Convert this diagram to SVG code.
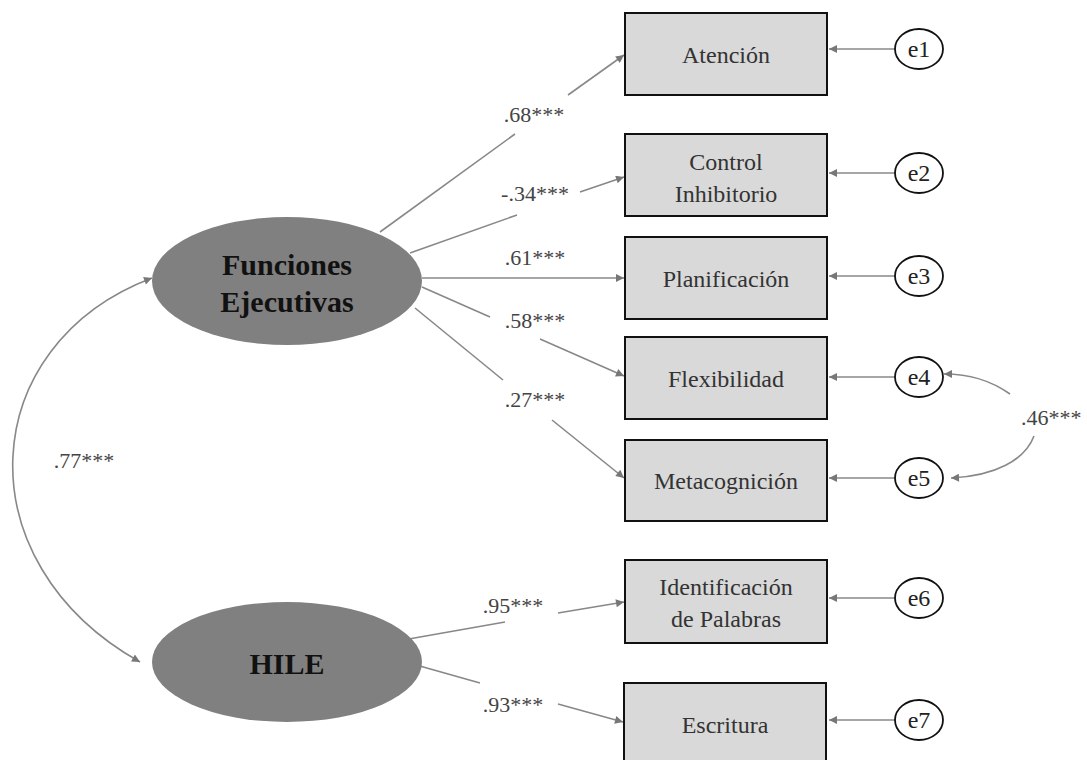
<svg xmlns="http://www.w3.org/2000/svg" width="1087" height="760" viewBox="0 0 1087 760">
<style>
  .box{fill:#d9d9d9;stroke:#111;stroke-width:2}
  .lat{fill:#808080;stroke:none}
  .err{fill:#fff;stroke:#111;stroke-width:1.8}
  text{font-family:"Liberation Serif","Times New Roman",Times,"DejaVu Serif",serif}
  .btxt{font-size:24px;fill:#333;text-anchor:middle}
  .ltxt{font-size:30px;font-weight:bold;fill:#111;text-anchor:middle}
  .etxt{font-size:24px;fill:#222;text-anchor:middle}
  .lbl{font-size:22px;fill:#444;text-anchor:middle}
  .ln{stroke:#888;stroke-width:1.6;fill:none}
</style>
<defs>
  <marker id="ah" viewBox="0 0 10 10" refX="10" refY="5" markerWidth="11" markerHeight="8" markerUnits="userSpaceOnUse" orient="auto-start-reverse">
    <path d="M0,0 L10,5 L0,10 z" fill="#777"/>
  </marker>
</defs>
<g id="connectors">
  <path class="ln" d="M152,278 C-25,345 -38,562 140,662" marker-start="url(#ah)" marker-end="url(#ah)"/>
  <line class="ln" x1="380" y1="232" x2="515" y2="134"/>
  <line class="ln" x1="568" y1="95" x2="624" y2="55" marker-end="url(#ah)"/>
  <line class="ln" x1="410" y1="253" x2="517" y2="215"/>
  <line class="ln" x1="580" y1="192" x2="624" y2="177" marker-end="url(#ah)"/>
  <line class="ln" x1="422" y1="278" x2="624" y2="278" marker-end="url(#ah)"/>
  <line class="ln" x1="422" y1="287" x2="490" y2="317"/>
  <line class="ln" x1="540" y1="339" x2="624" y2="376" marker-end="url(#ah)"/>
  <line class="ln" x1="415" y1="308" x2="503" y2="380"/>
  <line class="ln" x1="552" y1="420" x2="624" y2="478" marker-end="url(#ah)"/>
  <line class="ln" x1="403" y1="640" x2="505" y2="622"/>
  <line class="ln" x1="558" y1="613" x2="624" y2="602" marker-end="url(#ah)"/>
  <line class="ln" x1="402" y1="661" x2="480" y2="683"/>
  <line class="ln" x1="558" y1="704" x2="623" y2="722" marker-end="url(#ah)"/>
  <line class="ln" x1="895" y1="49" x2="829" y2="49" marker-end="url(#ah)"/>
  <line class="ln" x1="895" y1="173" x2="829" y2="173" marker-end="url(#ah)"/>
  <line class="ln" x1="895" y1="276" x2="829" y2="276" marker-end="url(#ah)"/>
  <line class="ln" x1="895" y1="377" x2="829" y2="377" marker-end="url(#ah)"/>
  <line class="ln" x1="895" y1="478" x2="829" y2="478" marker-end="url(#ah)"/>
  <line class="ln" x1="895" y1="598" x2="829" y2="598" marker-end="url(#ah)"/>
  <line class="ln" x1="895" y1="720" x2="829" y2="720" marker-end="url(#ah)"/>
  <path class="ln" d="M1010,394 C990,380 970,374 944,374" marker-end="url(#ah)"/>
  <path class="ln" d="M1034,436 C1025,460 995,476 951,478" marker-end="url(#ah)"/>
  <text class="lbl" x="534" y="122">.68***</text>
  <text class="lbl" x="535" y="201">-.34***</text>
  <text class="lbl" x="535" y="265">.61***</text>
  <text class="lbl" x="535" y="328">.58***</text>
  <text class="lbl" x="535" y="407">.27***</text>
  <text class="lbl" x="513" y="613">.95***</text>
  <text class="lbl" x="513" y="712">.93***</text>
  <text class="lbl" x="84" y="468">.77***</text>
  <text class="lbl" x="1021" y="425" style="text-anchor:start">.46***</text>
</g>
<g id="fe">
  <ellipse class="lat" cx="287" cy="281" rx="135" ry="64"/>
  <text class="ltxt" x="287" y="275">Funciones</text>
  <text class="ltxt" x="287" y="312">Ejecutivas</text>
</g>
<g id="hile">
  <ellipse class="lat" cx="287" cy="662" rx="135" ry="60"/>
  <text class="ltxt" x="287" y="674">HILE</text>
</g>
<g id="atencion">
  <rect class="box" x="625" y="13" width="202" height="82"/>
  <text class="btxt" x="726" y="63">Atención</text>
</g>
<g id="control">
  <rect class="box" x="625" y="134" width="202" height="82"/>
  <text class="btxt" x="726" y="170">Control</text>
  <text class="btxt" x="726" y="202">Inhibitorio</text>
</g>
<g id="planificacion">
  <rect class="box" x="625" y="237" width="202" height="82"/>
  <text class="btxt" x="726" y="287">Planificación</text>
</g>
<g id="flexibilidad">
  <rect class="box" x="625" y="337" width="202" height="82"/>
  <text class="btxt" x="726" y="387">Flexibilidad</text>
</g>
<g id="metacognicion">
  <rect class="box" x="625" y="440" width="202" height="81"/>
  <text class="btxt" x="726" y="489">Metacognición</text>
</g>
<g id="identificacion">
  <rect class="box" x="625" y="560" width="202" height="83"/>
  <text class="btxt" x="726" y="595">Identificación</text>
  <text class="btxt" x="726" y="627">de Palabras</text>
</g>
<g id="escritura">
  <rect class="box" x="624" y="683" width="202" height="82"/>
  <text class="btxt" x="725" y="733">Escritura</text>
</g>
<g id="e1"><ellipse class="err" cx="919" cy="49" rx="24" ry="20"/><text class="etxt" x="919" y="57">e1</text></g>
<g id="e2"><ellipse class="err" cx="919" cy="173" rx="24" ry="20"/><text class="etxt" x="919" y="181">e2</text></g>
<g id="e3"><ellipse class="err" cx="919" cy="276" rx="24" ry="20"/><text class="etxt" x="919" y="284">e3</text></g>
<g id="e4"><ellipse class="err" cx="919" cy="377" rx="24" ry="20"/><text class="etxt" x="919" y="385">e4</text></g>
<g id="e5"><ellipse class="err" cx="919" cy="478" rx="24" ry="20"/><text class="etxt" x="919" y="486">e5</text></g>
<g id="e6"><ellipse class="err" cx="919" cy="598" rx="24" ry="20"/><text class="etxt" x="919" y="606">e6</text></g>
<g id="e7"><ellipse class="err" cx="919" cy="720" rx="24" ry="20"/><text class="etxt" x="919" y="728">e7</text></g>
</svg>
